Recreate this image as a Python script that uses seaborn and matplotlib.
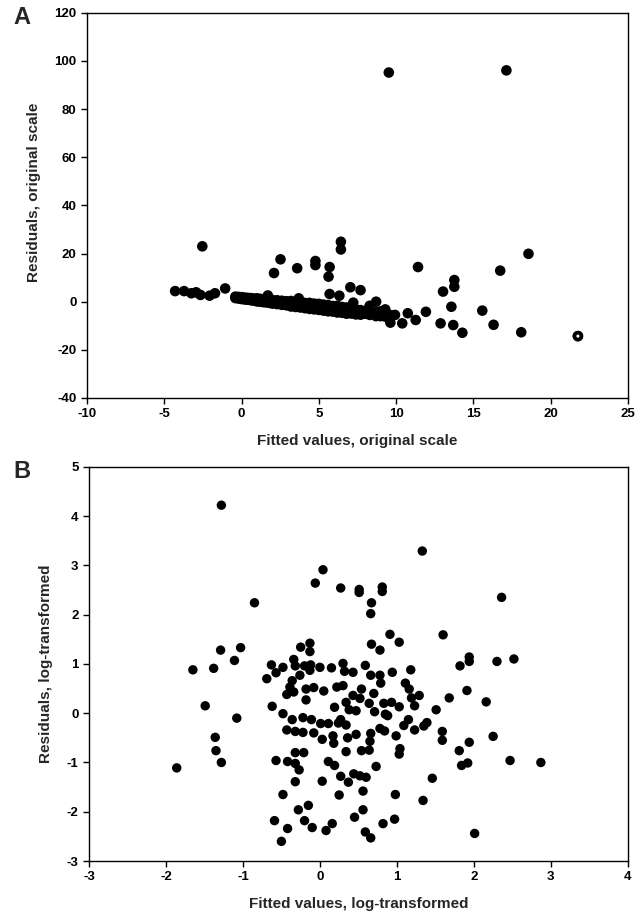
#! /usr/bin/env python3
# -*- coding: utf-8 -*-

import pandas as pd
import matplotlib
matplotlib.use('Agg')
import matplotlib.pyplot as plt
import seaborn as sns

###DATA###
#Panel A: fitted vs residuals, original scale
fit_orig = [9.53, 17.14, -2.54, 6.43, 6.43, 2.52, 4.78, 4.78, 3.60, 2.10,
            5.70, 5.63, 11.42, 18.57, 16.74, 13.77, 13.77, 13.04, 7.04, 7.70,
            -1.06, 13.58, 15.58, 11.93, 11.27, 10.40, 9.63, 12.88, 13.70, 14.29,
            16.31, 18.10, 21.77,
            -4.30, -3.72, -3.25, -2.94, -2.66, -2.07, -1.72,
            -0.4, -0.4, -0.2, -0.2, 0.0, 0.0, 0.2, 0.2, 0.4, 0.4,
            0.6, 0.6, 0.8, 0.8, 1.0, 1.0, 1.2, 1.2, 1.4, 1.4,
            1.6, 1.6, 1.7, 1.8, 1.8, 2.0, 2.0, 2.3, 2.3, 2.6,
            2.6, 2.9, 2.9, 3.2, 3.2, 3.2, 3.5, 3.7, 3.8, 3.8,
            4.1, 4.1, 4.1, 4.4, 4.4, 4.7, 4.7, 4.7, 5.0, 5.0,
            5.3, 5.3, 5.3, 5.6, 5.6, 5.7, 5.9, 5.9, 5.9, 6.2,
            6.2, 6.33, 6.5, 6.5, 6.5, 6.8, 6.8, 7.1, 7.1, 7.23,
            7.4, 7.4, 7.7, 7.7, 8.0, 8.0, 8.29, 8.3, 8.71, 8.7,
            8.7, 9.0, 9.0, 9.3, 9.3, 9.6, 9.93, 10.76]
res_orig = [95.2, 96.1, 23.0, 24.9, 21.7, 17.6, 16.9, 15.2, 13.9, 11.9,
            14.4, 10.4, 14.4, 19.9, 12.9, 9.0, 6.2, 4.2, 6.0, 4.8,
            5.5, -2.1, -3.7, -4.2, -7.6, -9.0, -8.7, -9.0, -9.7, -12.9,
            -9.6, -12.7, -14.3,
            4.4, 4.4, 3.5, 3.9, 2.8, 2.5, 3.5,
            2.1, 1.5, 2.0, 1.3, 1.1, 1.9, 0.9, 1.7, 1.6, 0.8,
            0.6, 1.5, 0.4, 1.3, 0.1, 1.4, 1.2, 0.0, -0.2, 1.0,
            0.9, -0.3, 2.6, -0.5, 0.8, -0.8, 0.7, 0.6, -1.0, -1.3,
            0.4, 0.2, -1.5, -2.0, 0.3, -0.9, -2.2, 1.4, -0.3, -2.4,
            -0.5, -2.7, -1.6, -0.5, -3.0, -0.8, -3.2, -2.0, -0.9, -3.4,
            -1.2, -3.7, -2.5, -1.4, -4.0, 3.2, -1.8, -4.1, -3.0, -1.7,
            -4.5, 2.5, -2.2, -4.6, -3.4, -2.4, -5.0, -2.5, -4.9, -0.4,
            -5.3, -3.2, -3.5, -5.4, -3.8, -5.0, -1.7, -5.5, 0.0, -4.4,
            -6.0, -4.0, -6.0, -3.2, -6.2, -5.5, -5.5, -4.8]
ring_x = [21.77]
ring_y = [-14.3]

#Panel B: fitted vs residuals, log-transformed
fit_log = [-1.28, 1.33, 0.04, -0.06, 0.27, 0.51, 0.51, 0.81, 0.81, -0.85,
           0.67, 0.66, 2.36, 0.91, 1.03, 1.60, 0.67, 0.78, -0.25, -0.13,
           -0.13, -1.29, -1.03, -1.11, -1.65, -1.38, -0.63, -0.57, -0.48, -0.69,
           -0.34, -0.32, -0.20, -0.12, 0.00, -0.13, -0.26, -0.36, -0.39, -0.43,
           -0.34, -0.18, -0.08, -0.18, 0.15, 0.30, 0.32, 0.43, 0.22, 0.30,
           0.59, 0.66, 0.78, 0.79, 0.94, 1.18, 1.11, 1.16, 1.19, 1.29,
           1.23, 0.54, 0.43, 0.34, 0.38, 0.47, 0.64, 0.71, 0.83, 0.93,
           1.03, 0.85, 0.19, -0.62, -0.48, -0.36, -0.22, -0.11, 0.01, 0.11,
           0.24, 0.34, 0.27, -0.43, -0.32, -0.22, -0.08, 0.03, 0.17, 0.18,
           0.36, 0.47, 0.66, 0.65, 0.64, 0.84, 0.78, 0.99, 1.04, 1.03,
           1.09, 1.15, 1.23, 1.35, 1.39, 1.51, 1.68, 1.59, 1.59, 1.91,
           1.82, 1.94, 1.94, 2.30, 2.52, 2.16, 2.25, 1.94, 1.81, 1.84,
           1.92, 2.47, 2.87, 1.46, 1.34, 2.01, 0.98, 0.97, 0.82, 0.56,
           0.56, 0.45, 0.59, 0.66, 0.73, 0.60, 0.52, 0.44, 0.37, 0.27,
           0.25, 0.19, 0.11, 0.03, 0.16, 0.08, 0.34, 0.54, -0.10, -0.20,
           -0.15, -0.28, -0.42, -0.59, -0.50, -0.48, -0.32, -0.27, -0.32, -0.42,
           -0.57, -0.32, -0.21, -1.49, -1.08, -1.36, -1.35, -1.28, -1.86, 0.52,
           0.05, 0.70, 0.88]
res_log = [4.22, 3.29, 2.91, 2.64, 2.54, 2.51, 2.45, 2.56, 2.47, 2.24,
           2.24, 2.02, 2.35, 1.60, 1.44, 1.59, 1.40, 1.28, 1.34, 1.42,
           1.25, 1.28, 1.33, 1.07, 0.88, 0.91, 0.98, 0.82, 0.93, 0.70,
           1.09, 0.96, 0.96, 0.98, 0.93, 0.87, 0.77, 0.66, 0.53, 0.38,
           0.43, 0.49, 0.52, 0.27, 0.92, 1.01, 0.85, 0.83, 0.53, 0.56,
           0.97, 0.77, 0.77, 0.61, 0.83, 0.88, 0.61, 0.49, 0.31, 0.36,
           0.15, 0.49, 0.36, 0.22, 0.07, 0.05, 0.20, 0.03, 0.20, 0.22,
           0.13, -0.02, 0.12, 0.14, -0.01, -0.13, -0.09, -0.13, -0.21, -0.21,
           -0.20, -0.24, -0.13, -0.34, -0.37, -0.39, -0.40, -0.53, -0.46, -0.61,
           -0.50, -0.43, -0.41, -0.57, -0.75, -0.36, -0.31, -0.46, -0.72, -0.83,
           -0.25, -0.13, -0.34, -0.26, -0.19, 0.07, 0.31, -0.37, -0.55, 0.46,
           0.96, 1.05, 1.14, 1.05, 1.10, 0.23, -0.47, -0.59, -0.76, -1.06,
           -1.01, -0.96, -1.00, -1.32, -1.77, -2.44, -1.65, -2.15, -2.24, -1.96,
           -1.58, -2.11, -2.41, -2.53, -1.08, -1.30, -1.27, -1.23, -1.40, -1.28,
           -1.66, -1.06, -0.98, -1.38, -2.24, -2.38, -0.78, -0.76, -2.32, -2.18,
           -1.87, -1.96, -2.34, -2.18, -2.60, -1.65, -1.39, -1.15, -1.02, -0.98,
           -0.96, -0.80, -0.80, 0.15, -0.10, -0.49, -0.76, -1.00, -1.11, 0.30,
           0.45, 0.40, -0.05]

###PLOT###
sns.set_style('ticks')
plt.rcParams['font.family'] = ['Liberation Sans', 'DejaVu Sans']
plt.rcParams['font.weight'] = 'bold'
plt.rcParams['axes.unicode_minus'] = False

df_a = pd.DataFrame({'fit': fit_orig, 'res': res_orig})
df_b = pd.DataFrame({'fit': fit_log, 'res': res_log})

fig = plt.figure(figsize=(6.4, 9.17), dpi=100)
ax_a = fig.add_axes([0.136, 0.566, 0.845, 0.420])
ax_b = fig.add_axes([0.139, 0.061, 0.842, 0.430])

sns.scatterplot(data=df_a, x='fit', y='res', ax=ax_a, color='black',
                s=58, edgecolor='none', linewidth=0)
ax_a.scatter(ring_x, ring_y, s=58, color='black', edgecolor='none')
ax_a.scatter(ring_x, ring_y, s=5, color='white', edgecolor='none')
sns.scatterplot(data=df_b, x='fit', y='res', ax=ax_b, color='black',
                s=46, edgecolor='none', linewidth=0)

ax_a.set_xlim(-10, 25)
ax_a.set_ylim(-40, 120)
ax_a.set_xticks(range(-10, 26, 5))
ax_a.set_yticks(range(-40, 121, 20))
ax_b.set_xlim(-3, 4)
ax_b.set_ylim(-3, 5)
ax_b.set_xticks(range(-3, 5))
ax_b.set_yticks(range(-3, 6))

ax_a.set_xlabel('Fitted values, original scale', fontsize=11, fontweight='bold', labelpad=10)
ax_a.set_ylabel('Residuals, original scale', fontsize=11, fontweight='bold')
ax_b.set_xlabel('Fitted values, log-transformed', fontsize=11, fontweight='bold', labelpad=10)
ax_b.set_ylabel('Residuals, log-transformed', fontsize=11, fontweight='bold')
ax_a.yaxis.set_label_coords(-0.085, 0.535)
ax_b.yaxis.set_label_coords(-0.066, 0.5)

for ax in (ax_a, ax_b):
    for sp in ax.spines.values():
        sp.set_visible(True)
        sp.set_color('black')
        sp.set_linewidth(1.0)
    ax.tick_params(direction='out', length=4, width=1, color='black',
                   labelsize=9.5, labelcolor='black')
    for lab in ax.get_xticklabels() + ax.get_yticklabels():
        lab.set_fontweight('bold')

fig.text(13/640, 1 - 6/917, 'A', fontsize=17, fontweight='bold', va='top', ha='left')
fig.text(13/640, 1 - 460/917, 'B', fontsize=17, fontweight='bold', va='top', ha='left')

fig.savefig('out.png', dpi=100)
